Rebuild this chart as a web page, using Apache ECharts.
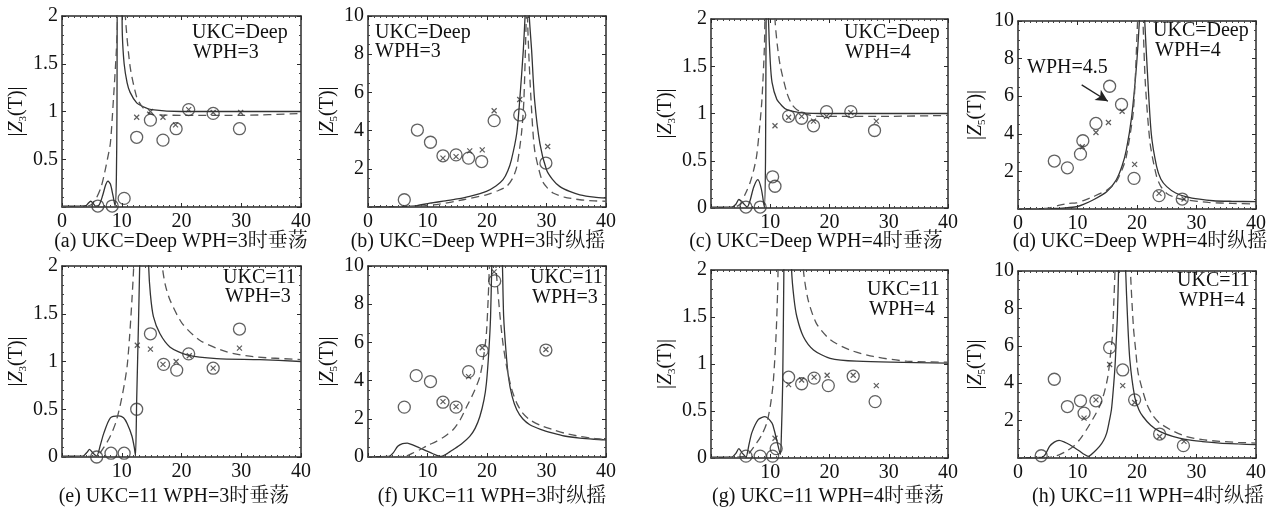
<!DOCTYPE html>
<html><head><meta charset="utf-8">
<script src="https://cdn.jsdelivr.net/npm/echarts@6/dist/echarts.min.js"></script>
<style>html,body{margin:0;padding:0;background:#fff}#c{width:1273px;height:507px}</style>
</head><body><div id="c"></div>
<script>
// ---------- data (x = period T, y = |Z(T)|) ----------
const xTicks = [0, 10, 20, 30, 40];
const a_solid = [[0,0.01],[3,0.01],[4,0.015],[4.4,0.04],[4.8,0.06],[5.2,0.04],[5.6,0.01],[6.2,0.02],[6.8,0.12],[7.3,0.23],[7.7,0.27],[8.1,0.24],[8.5,0.13],[8.9,0.01],[9.1,0.3],[9.2,1.0],[9.3,2.4],[9.9,2.4],[10.1,1.8],[10.4,1.5],[10.9,1.3],[11.4,1.2],[12.5,1.09],[13.6,1.05],[15,1.02],[20,1.0],[30,1.0],[40,1.0]];
const a_dashed = [[0,0],[4,0.005],[5,0.03],[5.8,0.1],[6.5,0.2],[7.0,0.32],[7.6,0.5],[8.1,0.67],[8.6,1.12],[9.1,1.64],[9.3,2.0],[9.5,2.6],[10.3,2.6],[10.6,2.0],[11.4,1.47],[12.5,1.15],[13.3,1.06],[14.2,1.0],[15,0.97],[20,0.96],[30,0.96],[40,0.98]];
const a_circ = [[6.0,0.01],[8.4,0.01],[10.4,0.09],[12.5,0.73],[14.8,0.91],[16.9,0.70],[19.1,0.82],[21.2,1.02],[25.3,0.98],[29.7,0.82]];
const a_cross = [[12.5,0.94],[14.8,1.0],[16.9,0.94],[19.0,0.86],[21.2,1.02],[25.3,0.99],[29.9,0.99]];

const b_solid = [[0,0.02],[6,0.03],[8,0.06],[10.4,0.2],[13,0.32],[15,0.42],[17.1,0.56],[19.9,0.82],[21.5,1.1],[22.7,1.43],[23.5,1.9],[24.1,2.47],[25,3.86],[25.5,5.6],[26.1,8.2],[26.4,10],[26.7,12],[26.9,12],[27.1,10],[27.5,8.2],[28.0,5.6],[28.9,3.3],[30.0,1.95],[31,1.45],[32.2,1.08],[34,0.8],[35.6,0.64],[38,0.52],[40,0.47]];
const b_dashed = [[0,0],[8,0.03],[12,0.15],[16,0.38],[19.9,0.64],[21.8,0.85],[23.3,1.08],[24.3,1.5],[25,2.1],[25.8,3.86],[26.2,5.6],[26.6,10],[26.7,12],[26.75,12],[26.8,10],[27.0,8.2],[27.4,5.6],[28.0,3.0],[29.2,1.43],[30,1.05],[31.1,0.73],[33,0.52],[35.6,0.38],[38,0.32],[40,0.3]];
const b_circ = [[6.1,0.38],[8.3,4.03],[10.5,3.39],[12.6,2.68],[14.8,2.73],[16.9,2.56],[19.1,2.38],[21.2,4.52],[25.5,4.82],[29.9,2.30]];
const b_cross = [[12.6,2.56],[14.8,2.64],[17.1,2.94],[19.2,2.99],[21.2,5.04],[25.5,5.63],[30.2,3.17]];

const c_solid = [[0,0.01],[3.5,0.01],[4.2,0.04],[4.7,0.09],[5.3,0.06],[6.1,0.01],[6.6,0.08],[7.2,0.22],[7.9,0.30],[8.5,0.2],[9.0,0.01],[9.2,0.5],[9.3,2.0],[9.4,2.5],[9.6,2.5],[9.7,2.0],[10.0,1.55],[10.3,1.33],[11.1,1.15],[12.0,1.08],[12.8,1.04],[15,1.01],[20,1.0],[40,1.0]];
const c_dashed = [[0,0],[4,0.01],[4.9,0.04],[5.8,0.15],[6.6,0.27],[7.2,0.4],[7.7,0.55],[8.2,0.85],[8.6,1.15],[9.0,1.68],[9.1,2.0],[9.3,2.6],[10.6,2.6],[10.8,2.0],[11.2,1.72],[11.7,1.5],[12.8,1.22],[13.6,1.1],[14.5,1.04],[16.2,0.99],[18,0.97],[30,0.97],[40,0.98]];
const c_circ = [[5.9,0.01],[8.3,0.01],[10.4,0.33],[10.8,0.23],[13.1,0.97],[15.3,0.95],[17.3,0.87],[19.5,1.02],[23.6,1.02],[27.6,0.82]];
const c_cross = [[10.8,0.87],[13.1,0.96],[15.3,0.97],[17.3,0.92],[19.5,0.97],[23.6,1.01],[27.9,0.92]];

const d_solid = [[0,0.02],[6,0.03],[8,0.06],[9.8,0.12],[11,0.25],[12.6,0.48],[14.9,0.92],[16.5,1.54],[17.5,2.3],[18.2,3.13],[19.1,4.9],[19.9,7.56],[20.4,10],[20.7,12],[21.0,12],[21.3,10],[21.7,7.56],[22.4,4.0],[23.3,2.25],[24,1.6],[25.0,1.19],[26.5,0.85],[28.3,0.65],[30.5,0.52],[32.8,0.44],[36,0.41],[40,0.39]];
const d_dashed = [[0,0],[5,0.05],[7.0,0.21],[8.5,0.3],[9.8,0.32],[11,0.45],[12.6,0.65],[14.9,1.0],[16.5,1.45],[17.5,2.1],[18.2,2.78],[19.4,5.26],[20.1,10],[20.4,12],[20.7,12],[21.0,10],[21.4,6.7],[22.2,3.5],[23.3,1.72],[24,1.2],[25.0,0.83],[26.5,0.6],[28.3,0.48],[32,0.35],[36,0.3],[40,0.27]];
const d_circ = [[6.1,2.55],[8.3,2.19],[10.5,2.92],[10.9,3.63],[13.1,4.55],[15.4,6.53],[17.4,5.56],[19.5,1.63],[23.7,0.71],[27.6,0.53]];
const d_cross = [[10.8,3.31],[13.1,4.07],[15.2,4.6],[17.5,5.2],[19.6,2.37],[23.7,0.83],[27.9,0.53]];
const d_arrow = [[10.7,6.6],[15.1,5.73]];

const e_solid = [[0,0.01],[3.5,0.01],[4.2,0.05],[4.6,0.08],[5.2,0.04],[5.8,0.01],[6.4,0.12],[7.0,0.25],[8.1,0.41],[9.5,0.43],[10.3,0.41],[10.9,0.35],[11.7,0.22],[12.1,0.1],[12.3,0.01],[12.5,0.6],[12.8,1.4],[13.0,2.0],[13.2,2.6],[14.3,2.6],[14.5,2.0],[14.8,1.7],[15.3,1.47],[16.4,1.29],[18.1,1.15],[20.9,1.07],[25.9,1.03],[33.1,1.02],[40,1.0]];
const e_dashed = [[0,0],[4,0.005],[5.8,0.01],[7,0.1],[8.1,0.22],[9.0,0.36],[9.7,0.53],[10.4,0.75],[10.9,0.95],[11.3,1.25],[11.7,1.64],[12.0,2.0],[12.2,2.6],[16.6,2.6],[16.8,2.0],[17.3,1.8],[18.1,1.64],[20.1,1.4],[23.1,1.22],[27.6,1.1],[32.0,1.05],[40,1.02]];
const e_circ = [[5.8,0.0],[8.2,0.04],[10.4,0.04],[12.5,0.50],[14.8,1.29],[17.0,0.97],[19.2,0.91],[21.2,1.08],[25.3,0.93],[29.7,1.34]];
const e_cross = [[12.6,1.17],[14.8,1.13],[16.9,0.97],[19.1,1.0],[21.3,1.06],[25.3,0.93],[29.7,1.14]];

const f_solid = [[0,0.02],[3.5,0.03],[4.2,0.2],[5.0,0.56],[5.8,0.7],[6.6,0.73],[7.6,0.62],[8.7,0.47],[9.8,0.32],[10.9,0.17],[12.3,0.03],[13.3,0.18],[14.3,0.38],[15.7,0.68],[17.1,1.08],[18.0,1.5],[18.8,2.12],[19.5,3.0],[19.9,3.86],[20.3,5.5],[20.6,7.34],[20.8,10],[21.0,12],[22.4,12],[22.6,10],[22.8,7.34],[23.2,5.5],[23.6,4.2],[24.2,3.2],[25.0,2.47],[26,2.0],[27.2,1.69],[29,1.45],[31.1,1.25],[33,1.1],[35.6,0.99],[38,0.93],[40,0.9]];
const f_dashed = [[0,0],[5,0.02],[6.4,0.05],[7.5,0.2],[8.7,0.38],[10,0.6],[11.5,0.82],[13,1.1],[14.3,1.43],[15.5,1.95],[16.6,2.64],[17.8,3.4],[18.8,4.21],[19.5,5.4],[19.9,6.47],[20.2,8.3],[20.4,10],[20.6,12],[21.3,12],[21.5,10],[22.2,7.34],[22.7,5.9],[23.3,4.73],[24.1,3.6],[25.0,2.82],[26,2.3],[27.2,1.95],[29,1.65],[31.1,1.43],[33,1.25],[35.6,1.08],[38,0.97],[40,0.9]];
const f_circ = [[6.1,2.61],[8.1,4.26],[10.5,3.95],[12.6,2.87],[14.8,2.61],[16.9,4.47],[19.2,5.57],[21.3,9.22],[29.9,5.6]];
const f_cross = [[12.6,2.9],[14.8,2.64],[16.9,4.21],[19.2,5.72],[21.2,9.69],[29.9,5.63]];

const g_solid = [[0,0.01],[3.5,0.01],[4.2,0.05],[4.7,0.1],[5.3,0.05],[5.9,0.01],[6.4,0.14],[6.9,0.27],[8.0,0.41],[9.1,0.44],[10.3,0.37],[10.7,0.29],[11.1,0.19],[11.7,0.04],[11.9,0.3],[12.1,0.8],[12.3,2.0],[12.4,2.6],[13.4,2.6],[13.6,2.0],[14.0,1.7],[14.5,1.5],[15.6,1.29],[17.3,1.15],[20.1,1.06],[24.6,1.03],[40,1.01]];
const g_dashed = [[0,0],[4.5,0.01],[5.9,0.02],[7.7,0.16],[8.6,0.25],[9.4,0.37],[10.0,0.55],[10.5,0.8],[11.0,1.33],[11.3,1.93],[11.35,2.6],[15.4,2.6],[15.6,2.0],[16.4,1.68],[17.8,1.43],[20.1,1.26],[23.4,1.15],[27.4,1.08],[33.0,1.03],[40,1.02]];
const g_circ = [[5.9,0.02],[8.3,0.02],[10.4,0.02],[11.0,0.10],[13.1,0.86],[15.3,0.79],[17.4,0.85],[19.8,0.77],[24.0,0.87],[27.7,0.60]];
const g_cross = [[10.8,0.21],[13.1,0.78],[15.3,0.83],[17.4,0.86],[19.6,0.88],[24.0,0.88],[27.9,0.77]];

const h_solid = [[0,0.02],[4,0.03],[4.6,0.2],[5.3,0.62],[6.1,0.85],[6.9,0.94],[7.8,0.85],[8.7,0.71],[9.5,0.55],[10.4,0.36],[11.1,0.2],[11.8,0.09],[12.7,0.3],[13.7,0.62],[14.4,0.95],[14.9,1.33],[15.3,1.9],[15.7,2.58],[16.0,3.6],[16.3,4.88],[16.5,6.2],[16.7,7.55],[16.9,10],[17.0,12],[18.0,12],[18.1,10],[18.4,7.55],[18.8,5.24],[19.6,3.29],[20.3,2.6],[21.0,2.22],[22.3,1.75],[23.8,1.42],[26,1.15],[28.3,0.98],[31,0.88],[33.9,0.8],[37,0.75],[40,0.71]];
const h_dashed = [[0,0],[5,0.03],[6,0.08],[7.0,0.18],[8.2,0.38],[9.3,0.62],[10.4,1.0],[11.5,1.51],[12.6,2.1],[13.7,2.75],[14.5,3.5],[15.1,4.35],[15.5,5.4],[15.9,6.66],[16.1,8.3],[16.3,10],[16.4,12],[18.8,12],[18.9,10],[19.4,7.0],[19.8,5.7],[20.2,4.53],[21.6,2.93],[22.6,2.3],[23.8,1.87],[26,1.45],[28.3,1.15],[31,0.98],[33.9,0.89],[37,0.84],[40,0.8]];
const h_circ = [[3.9,0.12],[6.1,4.21],[8.3,2.75],[10.5,3.06],[11.1,2.40],[13.1,3.06],[15.4,5.9],[17.6,4.71],[19.6,3.11],[23.8,1.28],[27.8,0.66]];
const h_cross = [[11.1,2.13],[13.1,3.11],[15.4,5.0],[17.6,3.87],[19.6,2.97],[23.8,1.15],[27.9,0.89]];

const captions = ['(a) UKC=Deep WPH=3时垂荡','(b) UKC=Deep WPH=3时纵摇','(c) UKC=Deep WPH=4时垂荡','(d) UKC=Deep WPH=4时纵摇',
                  '(e) UKC=11 WPH=3时垂荡','(f) UKC=11 WPH=3时纵摇','(g) UKC=11 WPH=4时垂荡','(h) UKC=11 WPH=4时纵摇'];
const labels1 = ['UKC=Deep','UKC=Deep','UKC=Deep','UKC=Deep','UKC=11','UKC=11','UKC=11','UKC=11'];
const labels2 = ['WPH=3','WPH=3','WPH=4','WPH=4','WPH=3','WPH=3','WPH=4','WPH=4'];
const ySubs = ['3','5','3','5','3','5','3','5'];

// ---------- layout ----------
const F = "'Liberation Serif','Noto Serif CJK SC','Noto Sans CJK SC',serif";
const panels = [
 {g:[62,16,239,191], ymax:2, yi:0.5, xZ:true, yZ:false, gap:25, d:[a_solid,a_dashed,a_circ,a_cross], t:[192,35,193,55], cap:[181,242]},
 {g:[368,16,238,191], ymax:10, yi:2, xZ:true, yZ:false, gap:22, d:[b_solid,b_dashed,b_circ,b_cross], t:[375,35,375,54], cap:[478,242]},
 {g:[711,19,237,189], ymax:2, yi:0.5, xZ:false, yZ:true, gap:27, d:[c_solid,c_dashed,c_circ,c_cross], t:[844,35,845,55], cap:[816,242]},
 {g:[1018,21,238,188], ymax:10, yi:2, xZ:true, yZ:false, gap:30, d:[d_solid,d_dashed,d_circ,d_cross], t:[1153,33,1155,53], cap:[1140,242]},
 {g:[62,266,239,191], ymax:2, yi:0.5, xZ:false, yZ:true, gap:29, d:[e_solid,e_dashed,e_circ,e_cross], t:[223,280,225,299], cap:[174,497]},
 {g:[368,266,238,191], ymax:10, yi:2, xZ:false, yZ:true, gap:22, d:[f_solid,f_dashed,f_circ,f_cross], t:[530,280,532,300], cap:[492,497]},
 {g:[711,270,237,188], ymax:2, yi:0.5, xZ:false, yZ:true, gap:27, d:[g_solid,g_dashed,g_circ,g_cross], t:[867,292,869,312], cap:[828,497]},
 {g:[1018,271,238,187], ymax:10, yi:2, xZ:true, yZ:false, gap:30, d:[h_solid,h_dashed,h_circ,h_cross], t:[1177,283,1179,303], cap:[1148,497]}
];

const grid=[], xAxis=[], yAxis=[], series=[], graphic=[];
const ink = '#2a2a2a';
panels.forEach((p,i)=>{
  grid.push({left:p.g[0], top:p.g[1], width:p.g[2], height:p.g[3]});
  const common = {
    type:'value', gridIndex:i,
    axisLine:{show:true, onZero:false, lineStyle:{color:ink, width:1.5}},
    axisTick:{show:true, inside:true, length:4, lineStyle:{color:ink, width:1}},
    minorTick:{show:true, length:2, lineStyle:{color:'#444', width:1}},
    splitLine:{show:false}
  };
  xAxis.push(Object.assign({}, common, {position:'bottom', min:xTicks[0], max:xTicks[xTicks.length-1], interval:10,
    minorTick:Object.assign({}, common.minorTick, {splitNumber:10}),
    axisLabel:{color:'#111', fontSize:20, fontFamily:F, margin:5, showMinLabel:p.xZ}}));
  xAxis.push(Object.assign({}, common, {position:'top', min:xTicks[0], max:xTicks[xTicks.length-1], interval:10,
    minorTick:Object.assign({}, common.minorTick, {splitNumber:10}), axisLabel:{show:false}}));
  yAxis.push(Object.assign({}, common, {position:'left', min:0, max:p.ymax, interval:p.yi,
    minorTick:Object.assign({}, common.minorTick, {splitNumber:p.ymax===2?5:4}),
    axisLabel:{color:'#111', fontSize:20, fontFamily:F, margin:4, showMinLabel:p.yZ},
    name:'{n||}{z|Z}{s|'+ySubs[i]+'}{n|(T)|}', nameLocation:'middle', nameRotate:90, nameGap:p.gap,
    nameTextStyle:{color:'#111', fontFamily:F, rich:{
      n:{fontSize:20, fontFamily:F, color:'#111', lineHeight:24},
      z:{fontSize:20, fontFamily:F, fontStyle:'italic', color:'#111', lineHeight:24},
      s:{fontSize:11, fontFamily:F, color:'#111', lineHeight:12, verticalAlign:'bottom'}}}}));
  yAxis.push(Object.assign({}, common, {position:'right', min:0, max:p.ymax, interval:p.yi,
    minorTick:Object.assign({}, common.minorTick, {splitNumber:p.ymax===2?5:4}), axisLabel:{show:false}}));
  const xi = 2*i, yi = 2*i;
  series.push({type:'line', xAxisIndex:xi, yAxisIndex:yi, data:p.d[0], showSymbol:false, smooth:0.25, clip:true,
    lineStyle:{color:'#333', width:1.3}, silent:true, z:3});
  series.push({type:'line', xAxisIndex:xi, yAxisIndex:yi, data:p.d[1], showSymbol:false, smooth:0.25, clip:true,
    lineStyle:{color:'#555', width:1.3, type:[8,5]}, silent:true, z:3});
  series.push({type:'scatter', xAxisIndex:xi, yAxisIndex:yi, data:p.d[2], symbol:'circle', symbolSize:12,
    itemStyle:{color:'rgba(0,0,0,0)', borderColor:'#3a3a3a', borderWidth:1.3}, z:4});
  const cs = {type:'scatter', xAxisIndex:xi, yAxisIndex:yi, data:p.d[3], symbol:'path://M0,0L10,10M10,0L0,10', symbolSize:5,
    itemStyle:{color:'rgba(0,0,0,0)', borderColor:'#333', borderWidth:1.2}, z:5};
  if (i===3) {
    cs.markLine = {silent:true, symbol:['none','arrow'], symbolSize:[9,12],
      lineStyle:{color:'#222', width:1.3, type:'solid'}, label:{show:false},
      data:[[{coord:d_arrow[0]},{coord:d_arrow[1]}]]};
  }
  series.push(cs);
  graphic.push({type:'text', left:p.t[0], top:p.t[1]-12, style:{text:labels1[i], font:'20px '+F, fill:'#111'}});
  graphic.push({type:'text', left:p.t[2], top:p.t[3]-12, style:{text:labels2[i], font:'20px '+F, fill:'#111'}});
  graphic.push({type:'text', x:p.cap[0], y:p.cap[1], style:{text:captions[i], font:'20px '+F, fill:'#111', textAlign:'center', textVerticalAlign:'middle'}});
});
graphic.push({type:'text', left:1027, top:58, style:{text:'WPH=4.5', font:'20px '+F, fill:'#111'}});

const chart = echarts.init(document.getElementById('c'), null, {renderer:'canvas'});
chart.setOption({animation:false, backgroundColor:'#fff', grid, xAxis, yAxis, series, graphic});
</script></body></html>
